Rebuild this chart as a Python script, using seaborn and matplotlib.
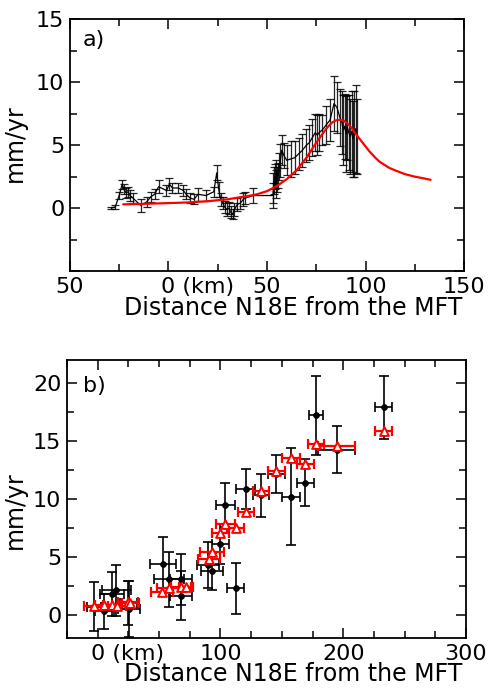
import matplotlib
matplotlib.use("Agg")
import matplotlib.pyplot as plt
import matplotlib.transforms as mtransforms
from matplotlib.ticker import MultipleLocator, FixedLocator
import pandas as pd
import seaborn as sns

# ---------------------------------------------------------------------------
# Panel a) observed velocity profile (black) and model (red)
# ---------------------------------------------------------------------------
a_dist = [-29, -27, -25, -23.5, -22.5, -21.5, -20.5, -19.5, -18, -14, -11, -9,
          -7, -5, -1, 0.5, 2, 5, 7.5, 9, 11, 13, 15, 19, 23, 24.5, 25.5, 26.5,
          27.5, 28.5, 29.5, 30.5, 31.5, 32.5, 33.5, 35, 36.5, 38, 39, 43, 53,
          53.3, 53.6, 54, 54.4, 54.8, 55.2, 55.7, 56.2, 56.8, 57.5, 58.5, 60,
          62, 64, 66, 68, 70, 71.5, 73, 74.5, 75.5, 76.5, 78, 80, 82, 84, 85.5,
          87, 88, 88.7, 89.4, 90.1, 90.8, 91.5, 92.2, 92.9, 93.6, 94.3, 95, 95.6]
a_vel = [0.0, 0.1, 1.0, 1.9, 1.5, 1.2, 1.3, 1.0, 0.8, 0.2, 0.5, 0.9,
         1.1, 1.7, 1.4, 1.9, 1.6, 1.6, 1.4, 1.1, 0.8, 0.7, 1.1, 1.0, 1.3, 2.8, 1.5, 0.7,
         0.4, 0.1, -0.1, 0.0, -0.3, -0.5, -0.1, 0.3, 0.4, 0.7, 0.8, 1.0, 1.0,
         1.6, 2.2, 2.5, 1.9, 2.9, 2.3, 2.6, 3.3, 3.8, 4.6, 4.2, 3.8,
         3.9, 4.0, 4.3, 4.6, 5.0, 5.2, 5.6, 6.0, 5.8, 6.0, 6.2, 6.6, 7.0, 8.3, 8.0,
         7.2, 6.8, 6.2, 6.5, 5.9, 6.4, 6.0, 5.7, 6.1, 5.5, 5.9, 6.3, 5.7]
a_err = [0.1, 0.15, 0.3, 0.35, 0.4, 0.4, 0.4, 0.4, 0.4, 0.5, 0.4, 0.4,
         0.4, 0.5, 0.4, 0.5, 0.4, 0.4, 0.4, 0.4, 0.4, 0.4, 0.5, 0.4, 0.4, 0.6, 0.6, 0.5,
         0.5, 0.5, 0.5, 0.5, 0.5, 0.4, 0.5, 0.5, 0.5, 0.5, 0.5, 0.6, 1.0,
         1.2, 1.1, 1.0, 1.1, 0.9, 1.0, 1.0, 1.1, 1.3, 1.2, 1.0, 1.2,
         1.4, 1.3, 1.3, 1.3, 1.3, 1.4, 1.5, 1.5, 1.6, 1.5, 1.2, 1.5, 1.7, 2.2, 2.0,
         2.3, 2.5, 2.8, 2.6, 3.0, 2.6, 3.0, 3.0, 3.2, 3.0, 3.4, 3.5, 3.0]

m_dist = [-23, -10, 0, 10, 20, 30, 40, 45, 50, 55, 60, 65, 70, 75, 80, 83,
          85, 87, 89, 91, 93, 96, 98, 100, 102, 105, 107, 110, 112, 115, 120,
          125, 130, 133]
m_vel = [0.3, 0.35, 0.4, 0.45, 0.55, 0.7, 0.95, 1.1, 1.35, 1.75, 2.3, 3.0, 4.0,
         5.2, 6.3, 6.8, 6.97, 7.02, 6.95, 6.7, 6.35, 5.7, 5.3, 4.9, 4.5, 4.0,
         3.7, 3.4, 3.2, 3.0, 2.7, 2.5, 2.35, 2.25]

# ---------------------------------------------------------------------------
# Panel b) black: observed rates, red: model rates
# ---------------------------------------------------------------------------
b_dist = [-3, 5.5, 11.7, 15.3, 25.4, 25.0, 53.3, 58.2, 67.8, 67.8, 90.2, 93.2,
          99.7, 104, 112.3, 120.5, 133.3, 145.6, 157.4, 169, 177.9, 194.8, 233]
b_vel = [0.7, 0.3, 1.8, 2.1, 0.5, 1.0, 4.35, 3.05, 3.05, 1.65, 4.3, 3.75,
         6.1, 9.5, 2.3, 10.85, 10.3, 12.15, 10.2, 11.4, 17.2, 14.25, 17.9]
b_xerr = [6, 7.5, 10, 12, 9, 7, 10.5, 12, 9, 9, 9, 9,
          7, 8, 7, 7.5, 6.5, 7, 7, 7, 6, 15, 7]
b_yerr = [2.1, 1.5, 1.9, 2.2, 2.4, 1.9, 2.35, 2.4, 2.2, 2.1, 2.0, 1.6,
          1.7, 1.9, 2.2, 1.75, 1.85, 1.6, 4.2, 2.0, 3.4, 2.0, 2.7]

r_dist = [-3.3, 5.0, 11.7, 15.8, 24.8, 26.7, 52.7, 58.2, 67.8, 72.0, 90.4, 93.2,
          99.7, 104, 112.3, 120.5, 133.3, 145.6, 157.4, 169, 177.9, 194.8, 233]
r_vel = [0.8, 0.85, 0.85, 0.8, 1.1, 1.0, 1.95, 2.3, 2.4, 2.4, 4.85, 5.45,
         7.05, 7.85, 7.5, 8.9, 10.7, 12.45, 13.5, 13.0, 14.7, 14.6, 15.85]
r_xerr = [8, 7, 7, 7, 8, 7, 9, 10, 8, 6, 9, 9.5,
          7, 8, 7, 6.5, 6.5, 7, 7, 7, 6.5, 15, 7]

df_a = pd.DataFrame({"dist": a_dist, "vel": a_vel, "err": a_err})
df_m = pd.DataFrame({"dist": m_dist, "vel": m_vel})
df_b = pd.DataFrame({"dist": b_dist, "vel": b_vel, "xerr": b_xerr, "yerr": b_yerr})
df_r = pd.DataFrame({"dist": r_dist, "vel": r_vel, "xerr": r_xerr})

sns.set_theme(style="ticks")
plt.rcParams["font.family"] = ["DejaVu Sans"]
plt.rcParams["axes.linewidth"] = 1.3

fig = plt.figure(figsize=(4.89, 6.88), dpi=100)
ax_a = fig.add_axes([0.143, 0.606, 0.806, 0.366])
ax_b = fig.add_axes([0.137, 0.0727, 0.816, 0.4043])

TICK_FS = 16
LABEL_FS = 17


def style_axes(ax):
    for sp in ax.spines.values():
        sp.set_visible(True)
        sp.set_color("black")
        sp.set_linewidth(1.3)
    ax.set_facecolor("white")
    ax.grid(False)
    ax.tick_params(which="both", direction="in", top=True, right=True,
                   colors="black", labelsize=TICK_FS, width=1.1, pad=4)
    ax.tick_params(which="major", length=7)
    ax.tick_params(which="minor", length=5)


def shift_zero_label(ax, idx):
    # IDL style: "0" sits on the tick, "(km)" trails to the right
    lab = ax.xaxis.get_major_ticks()[idx].label1
    lab.set_horizontalalignment("left")
    off = mtransforms.ScaledTranslation(-0.318 * TICK_FS / 72.0, 0, fig.dpi_scale_trans)
    lab.set_transform(lab.get_transform() + off)


# ── panel a ─────────────────────────────────────────────────────────────
ax_a.errorbar(df_a["dist"], df_a["vel"], yerr=df_a["err"], fmt="none",
              ecolor="black", elinewidth=0.9, capsize=3, capthick=0.9, alpha=0.85)
sns.lineplot(data=df_a, x="dist", y="vel", ax=ax_a, color="black",
             linewidth=0.9, sort=False, estimator=None)
sns.lineplot(data=df_m, x="dist", y="vel", ax=ax_a, color="red",
             linewidth=1.6, sort=False, estimator=None)

ax_a.set_xlim(-50, 150)
ax_a.set_ylim(-5, 15)
style_axes(ax_a)
ax_a.xaxis.set_major_locator(FixedLocator([-50, 0, 50, 100, 150]))
ax_a.set_xticklabels(["50", "0 (km)", "50", "100", "150"])
ax_a.xaxis.set_minor_locator(MultipleLocator(25))
ax_a.yaxis.set_major_locator(FixedLocator([-5, 0, 5, 10, 15]))
ax_a.set_yticklabels(["", "0", "5", "10", "15"])
ax_a.yaxis.set_minor_locator(MultipleLocator(2.5))
ax_a.set_xlabel("Distance N18E from the MFT", fontsize=LABEL_FS, color="black")
ax_a.xaxis.set_label_coords(0.566, -0.10)
ax_a.set_ylabel("mm/yr", fontsize=LABEL_FS, color="black")
ax_a.yaxis.set_label_coords(-0.108, 0.51)
ax_a.text(0.033, 0.917, "a)", transform=ax_a.transAxes, fontsize=LABEL_FS - 1,
          ha="left", va="center", color="black")
shift_zero_label(ax_a, 1)

# ── panel b ─────────────────────────────────────────────────────────────
ax_b.errorbar(df_b["dist"], df_b["vel"], xerr=df_b["xerr"], yerr=df_b["yerr"],
              fmt="none", ecolor="black", elinewidth=1.2, capsize=3.5, capthick=1.2)
sns.scatterplot(data=df_b, x="dist", y="vel", ax=ax_b, color="black",
                marker="o", s=18, edgecolor="black", linewidth=0.5, zorder=3)
ax_b.errorbar(df_r["dist"], df_r["vel"], xerr=df_r["xerr"], fmt="none",
              ecolor="red", elinewidth=1.6, capsize=3.5, capthick=1.6, zorder=4)
sns.scatterplot(data=df_r, x="dist", y="vel", ax=ax_b, marker="^", s=40,
                facecolor="white", edgecolor="red", linewidth=1.4, zorder=5)

ax_b.set_xlim(-25, 300)
ax_b.set_ylim(-2, 22)
style_axes(ax_b)
ax_b.xaxis.set_major_locator(FixedLocator([0, 100, 200, 300]))
ax_b.set_xticklabels(["0 (km)", "100", "200", "300"])
ax_b.xaxis.set_minor_locator(MultipleLocator(25))
ax_b.yaxis.set_major_locator(FixedLocator([0, 5, 10, 15, 20]))
ax_b.set_yticklabels(["0", "5", "10", "15", "20"])
ax_b.yaxis.set_minor_locator(MultipleLocator(2.5))
ax_b.set_xlabel("Distance N18E from the MFT", fontsize=LABEL_FS, color="black")
ax_b.xaxis.set_label_coords(0.566, -0.088)
ax_b.set_ylabel("mm/yr", fontsize=LABEL_FS, color="black")
ax_b.yaxis.set_label_coords(-0.10, 0.46)
ax_b.text(0.04, 0.905, "b)", transform=ax_b.transAxes, fontsize=LABEL_FS - 1,
          ha="left", va="center", color="black")
shift_zero_label(ax_b, 0)

fig.savefig("out.png", dpi=100, facecolor="white")
plt.close(fig)
